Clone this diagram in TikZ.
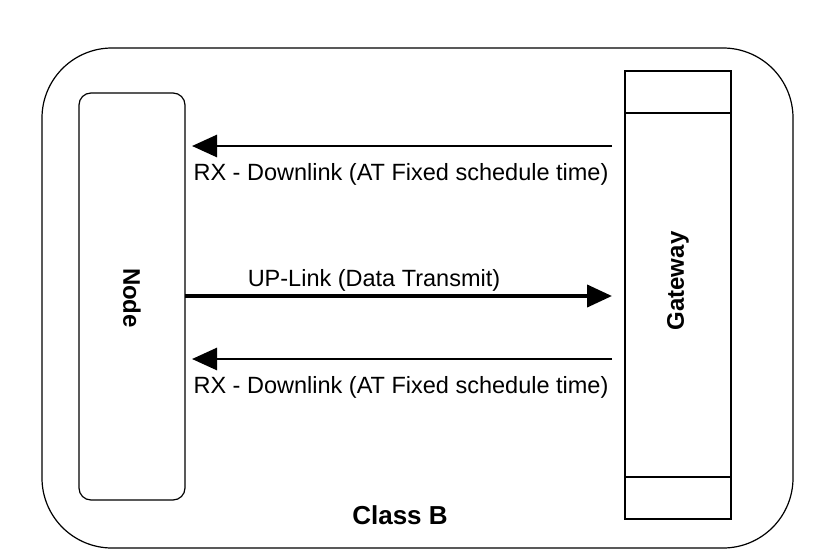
\documentclass[tikz,border=0pt]{standalone}
\usepackage{fontspec}
\setmainfont{Liberation Sans}
\usetikzlibrary{arrows.meta}
\begin{document}
\begin{tikzpicture}[x=1pt,y=-1pt,
  box/.style={draw,line width=1.2pt},
  lbl/.style={font=\fontsize{23.5}{26}\selectfont},
  bl/.style={font=\bfseries\fontsize{24}{26}\selectfont},
  arr/.style={line width=2.8pt,-{Triangle[length=25pt,width=22pt]}}]
\useasboundingbox (0,0) rectangle (834,552);
\draw[box,rounded corners=70pt] (42,48) rectangle (793,548);
\draw[box,rounded corners=12pt] (79,93) rectangle (185,500);
\node[bl,rotate=-90] (node) at (132,298) {Node};
\draw[box] (625,71) rectangle (731,519);
\draw[line width=1.2pt] (625,113) -- (731,113) (625,477) -- (731,477);
\node[bl,rotate=90] (gw) at (678,281) {Gateway};
\coordinate (g1) at (612,146); \coordinate (n1) at (192,146);
\coordinate (n2) at (185,296); \coordinate (g2) at (612,296);
\coordinate (g3) at (612,359); \coordinate (n3) at (192,359);
\draw[arr] (g1) -- (n1);
\draw[arr,line width=4pt] (n2) -- (g2);
\draw[arr] (g3) -- (n3);
\node[lbl] at (401,174) {RX - Downlink (AT Fixed schedule time)};
\node[lbl] at (374,280) {UP-Link (Data Transmit)};
\node[lbl] at (401,387) {RX - Downlink (AT Fixed schedule time)};
\node[font=\bfseries\fontsize{26}{28}\selectfont] at (400,515) {Class B};
\end{tikzpicture}
\end{document}
